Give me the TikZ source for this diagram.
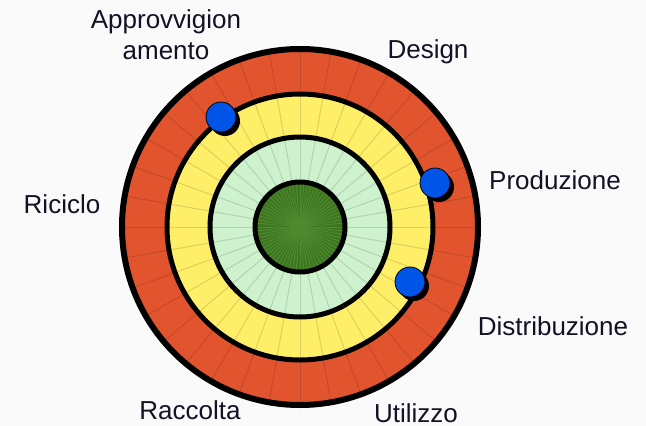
\documentclass[tikz,border=0pt]{standalone}
\usepackage{fontspec}
\setmainfont{Liberation Sans}
\usetikzlibrary{calc}
\definecolor{ringred}{RGB}{226,84,46}
\definecolor{ringyellow}{RGB}{255,238,104}
\definecolor{ringlight}{RGB}{206,242,206}
\definecolor{ringdark}{RGB}{62,118,32}
\definecolor{ringdarkline}{RGB}{80,138,48}
\definecolor{dotblue}{RGB}{0,84,232}
\definecolor{txt}{RGB}{18,18,36}
\definecolor{bg}{RGB}{250,250,250}
\tikzset{
  lbl/.style={font=\fontsize{26}{31}\selectfont, text=txt, inner sep=0pt, anchor=base, align=center},
  border/.style={draw=black, line width=5pt},
  spoke/.style={draw=black, draw opacity=0.13, line width=1pt},
  dot/.style={circle, fill=dotblue, draw=black, line width=0.8pt, minimum size=30pt, inner sep=0pt},
  dotshadow/.style={circle, fill=black, minimum size=30pt, inner sep=0pt}
}
\begin{document}
\begin{tikzpicture}[x=1pt,y=-1pt]
\fill[bg] (0,0) rectangle (646,426);
\useasboundingbox (0,0) rectangle (646,426);
\coordinate (C) at (300,227);
% ring fills
\fill[ringred] (C) circle[radius=178pt];
\fill[ringyellow] (C) circle[radius=133pt];
\fill[ringlight] (C) circle[radius=90pt];
\fill[ringdark] (C) circle[radius=45pt];
% spokes
\foreach \a in {0,10,...,350} {
  \draw[spoke] ($(C)+(\a:45pt)$) -- ($(C)+(\a:178pt)$);
}
\foreach \a in {0,5,...,355} {
  \draw[ringdarkline, line width=0.9pt] (C) -- ($(C)+(\a:45pt)$);
}
% borders
\draw[border, line width=6pt] (C) circle[radius=178pt];
\draw[border] (C) circle[radius=133pt];
\draw[border] (C) circle[radius=90pt];
\draw[border] (C) circle[radius=45pt];
% dots
\node[dotshadow] (s1) at (225,121) {};
\node[dot] (d1) at (221,117) {};
\node[dotshadow] (s2) at (439,187) {};
\node[dot] (d2) at (435,183) {};
\node[dotshadow] (s3) at (414,286) {};
\node[dot] (d3) at (410,282) {};
% labels
\node[lbl] (appr) at (166,59) {Approvvigion\\amento};
\node[lbl] (design) at (428,58) {Design};
\node[lbl] (prod) at (555,189) {Produzione};
\node[lbl] (ric) at (62,213) {Riciclo};
\node[lbl] (distr) at (553,335) {Distribuzione};
\node[lbl] (racc) at (190,419) {Raccolta};
\node[lbl] (util) at (416,422) {Utilizzo};
\end{tikzpicture}
\end{document}
